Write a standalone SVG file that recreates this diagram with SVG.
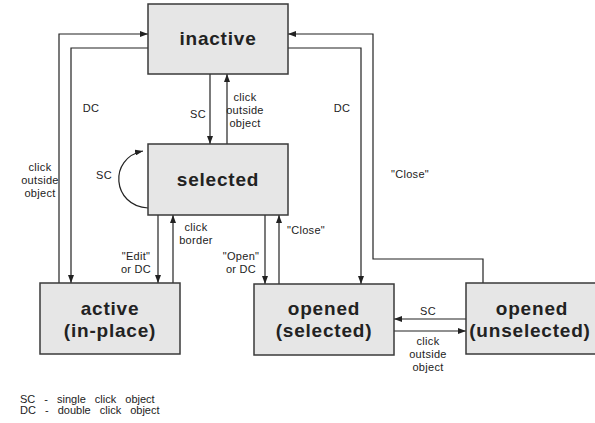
<svg xmlns="http://www.w3.org/2000/svg" width="595" height="423" viewBox="0 0 595 423">
<style>
.box{fill:#e6e6e6;stroke:#3a3a3a;stroke-width:1.5}
.nt{font-family:"Liberation Sans",Arial,sans-serif;font-weight:bold;font-size:19px;letter-spacing:0.8px;fill:#222;text-anchor:middle}
.lb{font-family:"Liberation Sans",Arial,sans-serif;font-size:11px;fill:#222;text-anchor:middle;letter-spacing:0.3px}
.lg{font-family:"Liberation Sans",Arial,sans-serif;font-size:11px;fill:#222;word-spacing:6px}
.ln{fill:none;stroke:#222;stroke-width:1.2;marker-end:url(#ah)}
</style>
<defs>
<marker id="ah" viewBox="0 0 8 6" refX="8" refY="3" markerWidth="8" markerHeight="6" markerUnits="userSpaceOnUse" orient="auto">
<path d="M0,0 L8,3 L0,6 Z" fill="#222"/>
</marker>
</defs>
<rect width="595" height="423" fill="#fff"/>
<g id="connectors">
<path class="ln" d="M59,283 V34 H148"/>
<path class="ln" d="M148,48 H71 V283"/>
<path class="ln" d="M210,74 V144"/>
<path class="ln" d="M227,144 V74"/>
<path class="ln" d="M148,208 C112,206 108,158 143,151"/>
<path class="ln" d="M158,215 V283"/>
<path class="ln" d="M173,284 V215"/>
<path class="ln" d="M265,215 V284"/>
<path class="ln" d="M279,284 V215"/>
<path class="ln" d="M288,48 H361 V284"/>
<path class="ln" d="M483,283 V259 H373 V34 H288"/>
<path class="ln" d="M466,319 H394"/>
<path class="ln" d="M394,331 H466"/>
<text class="lb" x="40" y="171">click</text>
<text class="lb" x="40" y="184">outside</text>
<text class="lb" x="40" y="197">object</text>
<text class="lb" x="91" y="112">DC</text>
<text class="lb" x="198" y="118">SC</text>
<text class="lb" x="245" y="101">click</text>
<text class="lb" x="245" y="114">outside</text>
<text class="lb" x="245" y="127">object</text>
<text class="lb" x="104" y="179">SC</text>
<text class="lb" x="136" y="260">"Edit"</text>
<text class="lb" x="136" y="273">or DC</text>
<text class="lb" x="196" y="231">click</text>
<text class="lb" x="196" y="244">border</text>
<text class="lb" x="241" y="260">"Open"</text>
<text class="lb" x="241" y="273">or DC</text>
<text class="lb" x="306" y="234">"Close"</text>
<text class="lb" x="342" y="112">DC</text>
<text class="lb" x="410" y="178">"Close"</text>
<text class="lb" x="428" y="315">SC</text>
<text class="lb" x="428" y="345">click</text>
<text class="lb" x="428" y="358">outside</text>
<text class="lb" x="428" y="371">object</text>
</g>
<g id="inactive"><rect class="box" x="148" y="4" width="140" height="70"/><text class="nt" x="218" y="45">inactive</text></g>
<g id="selected"><rect class="box" x="148" y="144" width="140" height="71"/><text class="nt" x="218" y="186">selected</text></g>
<g id="active"><rect class="box" x="40" y="283" width="140" height="71"/><text class="nt" x="110" y="315">active</text><text class="nt" x="110" y="337">(in-place)</text></g>
<g id="opened-selected"><rect class="box" x="254" y="284" width="140" height="71"/><text class="nt" x="324" y="315">opened</text><text class="nt" x="324" y="337">(selected)</text></g>
<g id="opened-unselected"><rect class="box" x="466" y="283" width="130" height="71"/><text class="nt" x="532" y="315">opened</text><text class="nt" x="530" y="337">(unselected)</text></g>
<g id="legend">
<text class="lg" x="20" y="403">SC - single click object</text>
<text class="lg" x="20" y="414">DC - double click object</text>
</g>
</svg>
